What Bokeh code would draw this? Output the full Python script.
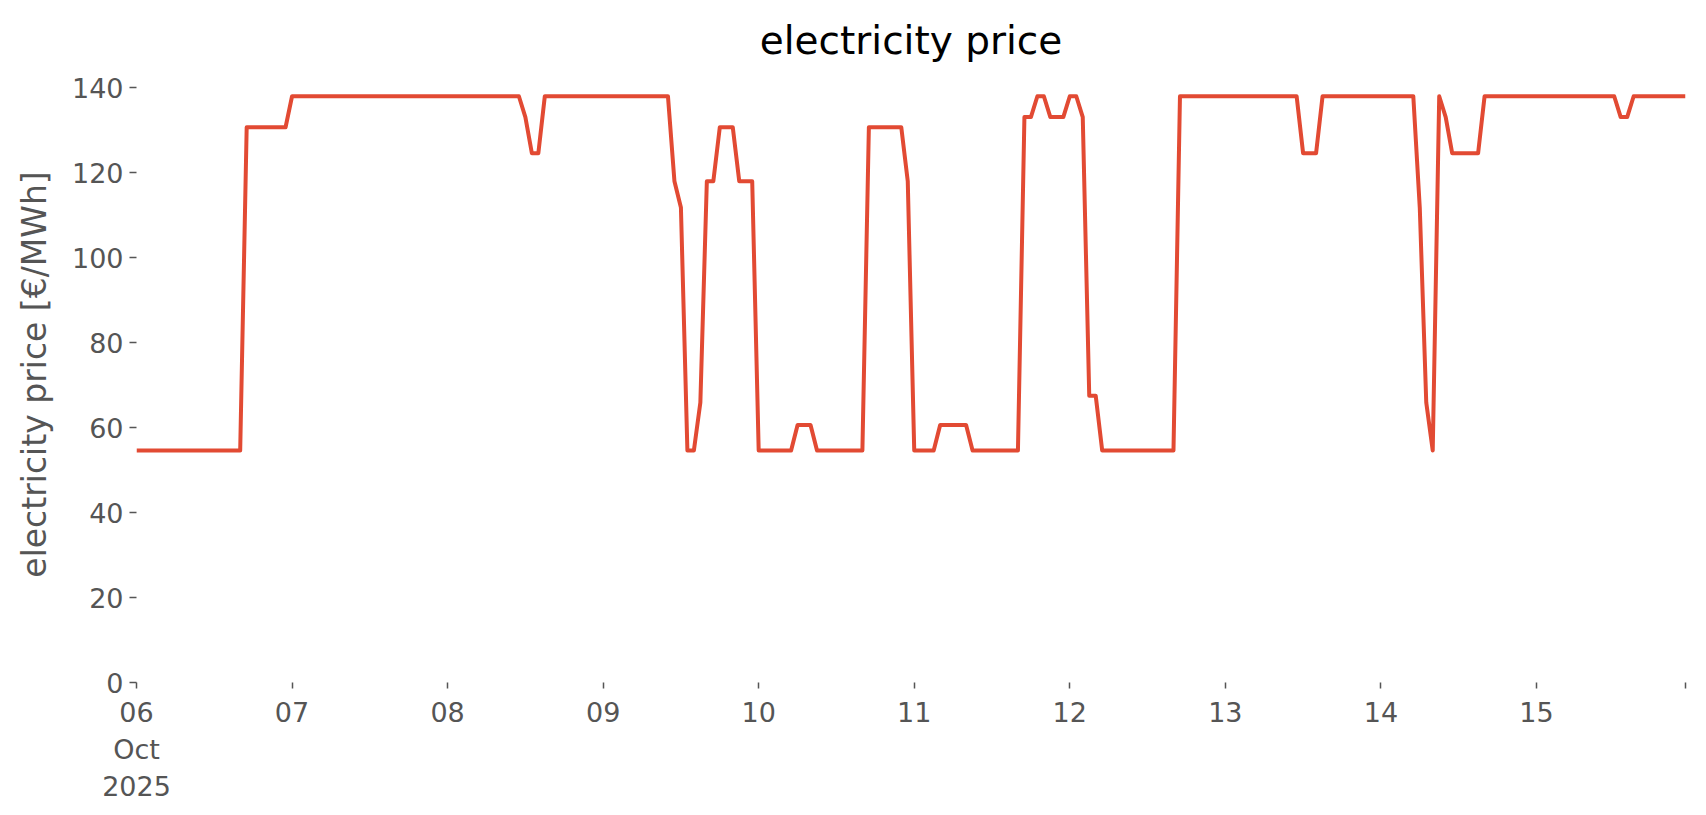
import pandas as pd
from bokeh.plotting import figure
from bokeh.models import ColumnDataSource, Range1d, FixedTicker
from bokeh.embed import file_html
from bokeh.resources import INLINE

# hourly electricity price [EUR/MWh], one list per day (00:00 .. 23:00)
oct06 = [54.6, 54.6, 54.6, 54.6, 54.6, 54.6, 54.6, 54.6, 54.6, 54.6, 54.6, 54.6,
         54.6, 54.6, 54.6, 54.6, 54.6, 130.7, 130.7, 130.7, 130.7, 130.7, 130.7, 130.7]
oct07 = [138.0, 138.0, 138.0, 138.0, 138.0, 138.0, 138.0, 138.0, 138.0, 138.0, 138.0, 138.0,
         138.0, 138.0, 138.0, 138.0, 138.0, 138.0, 138.0, 138.0, 138.0, 138.0, 138.0, 138.0]
oct08 = [138.0, 138.0, 138.0, 138.0, 138.0, 138.0, 138.0, 138.0, 138.0, 138.0, 138.0, 138.0,
         133.1, 124.6, 124.6, 138.0, 138.0, 138.0, 138.0, 138.0, 138.0, 138.0, 138.0, 138.0]
oct09 = [138.0, 138.0, 138.0, 138.0, 138.0, 138.0, 138.0, 138.0, 138.0, 138.0, 138.0, 118.0,
         111.8, 54.6, 54.6, 65.9, 118.0, 118.0, 130.7, 130.7, 130.7, 118.0, 118.0, 118.0]
oct10 = [54.6, 54.6, 54.6, 54.6, 54.6, 54.6, 60.6, 60.6, 60.6, 54.6, 54.6, 54.6,
         54.6, 54.6, 54.6, 54.6, 54.6, 130.7, 130.7, 130.7, 130.7, 130.7, 130.7, 118.0]
oct11 = [54.6, 54.6, 54.6, 54.6, 60.6, 60.6, 60.6, 60.6, 60.6, 54.6, 54.6, 54.6,
         54.6, 54.6, 54.6, 54.6, 54.6, 133.1, 133.1, 138.0, 138.0, 133.1, 133.1, 133.1]
oct12 = [138.0, 138.0, 133.1, 67.5, 67.5, 54.6, 54.6, 54.6, 54.6, 54.6, 54.6, 54.6,
         54.6, 54.6, 54.6, 54.6, 54.6, 138.0, 138.0, 138.0, 138.0, 138.0, 138.0, 138.0]
oct13 = [138.0, 138.0, 138.0, 138.0, 138.0, 138.0, 138.0, 138.0, 138.0, 138.0, 138.0, 138.0,
         124.6, 124.6, 124.6, 138.0, 138.0, 138.0, 138.0, 138.0, 138.0, 138.0, 138.0, 138.0]
oct14 = [138.0, 138.0, 138.0, 138.0, 138.0, 138.0, 111.8, 65.9, 54.6, 138.0, 133.1, 124.6,
         124.6, 124.6, 124.6, 124.6, 138.0, 138.0, 138.0, 138.0, 138.0, 138.0, 138.0, 138.0]
oct15 = [138.0, 138.0, 138.0, 138.0, 138.0, 138.0, 138.0, 138.0, 138.0, 138.0, 138.0, 138.0,
         138.0, 133.1, 133.1, 138.0, 138.0, 138.0, 138.0, 138.0, 138.0, 138.0, 138.0, 138.0]

days = ["2025-10-06", "2025-10-07", "2025-10-08", "2025-10-09", "2025-10-10",
        "2025-10-11", "2025-10-12", "2025-10-13", "2025-10-14", "2025-10-15"]
day_labels = ["06\nOct\n2025", "07", "08", "09", "10", "11", "12", "13", "14", "15"]
y_ticks = [0, 20, 40, 60, 80, 100, 120, 140]

price = oct06 + oct07 + oct08 + oct09 + oct10 + oct11 + oct12 + oct13 + oct14 + oct15
time = pd.date_range(days[0], periods=len(price), freq="h")

src = ColumnDataSource(dict(time=time, price=price))

def ms(t):
    return int(pd.Timestamp(t).value // 10**6)

x_start = ms(time[0])
x_end = ms(time[-1])

p = figure(x_axis_type="datetime", output_backend="svg", toolbar_location=None,
           frame_width=1549, frame_height=616,
           min_border_left=136, min_border_top=66, min_border_bottom=112, min_border_right=13,
           x_range=Range1d(x_start, x_end), y_range=Range1d(0, 145),
           title="electricity price")

p.line("time", "price", source=src, line_color="#E24A33", line_width=4, line_join="round")

grey = "#555555"
font = "DejaVu Sans"

p.title.align = "center"
p.title.text_font = font
p.title.text_font_size = "39px"
p.title.text_font_style = "normal"
p.title.text_color = "#000000"
p.title.standoff = 7

tick_vals = [ms(d) for d in days] + [x_end]
overrides = {ms(d): lab for d, lab in zip(days, day_labels)}
overrides[x_end] = ""
p.xaxis.ticker = FixedTicker(ticks=tick_vals)
p.xaxis.major_label_overrides = overrides

p.yaxis.ticker = FixedTicker(ticks=y_ticks)
p.yaxis.axis_label = "electricity price [€/MWh]"

for ax in (p.xaxis[0], p.yaxis[0]):
    ax.axis_line_color = None
    ax.major_tick_line_color = grey
    ax.major_tick_line_width = 1.5
    ax.minor_tick_line_color = None
    ax.major_tick_in = 0
    ax.major_label_text_color = grey
    ax.major_label_text_font = font
    ax.major_label_text_font_size = "27px"
    ax.axis_label_text_color = grey
    ax.axis_label_text_font = font
    ax.axis_label_text_font_size = "33px"
    ax.axis_label_text_font_style = "normal"

p.xaxis.major_tick_out = 6
p.xaxis.major_label_standoff = 8
p.yaxis.major_tick_out = 7
p.yaxis.major_label_standoff = 6
p.yaxis.axis_label_standoff = 15

p.xgrid.grid_line_color = None
p.ygrid.grid_line_color = None
p.outline_line_color = None
p.background_fill_color = "white"
p.border_fill_color = "white"

open("out.html", "w").write(file_html(p, INLINE))
